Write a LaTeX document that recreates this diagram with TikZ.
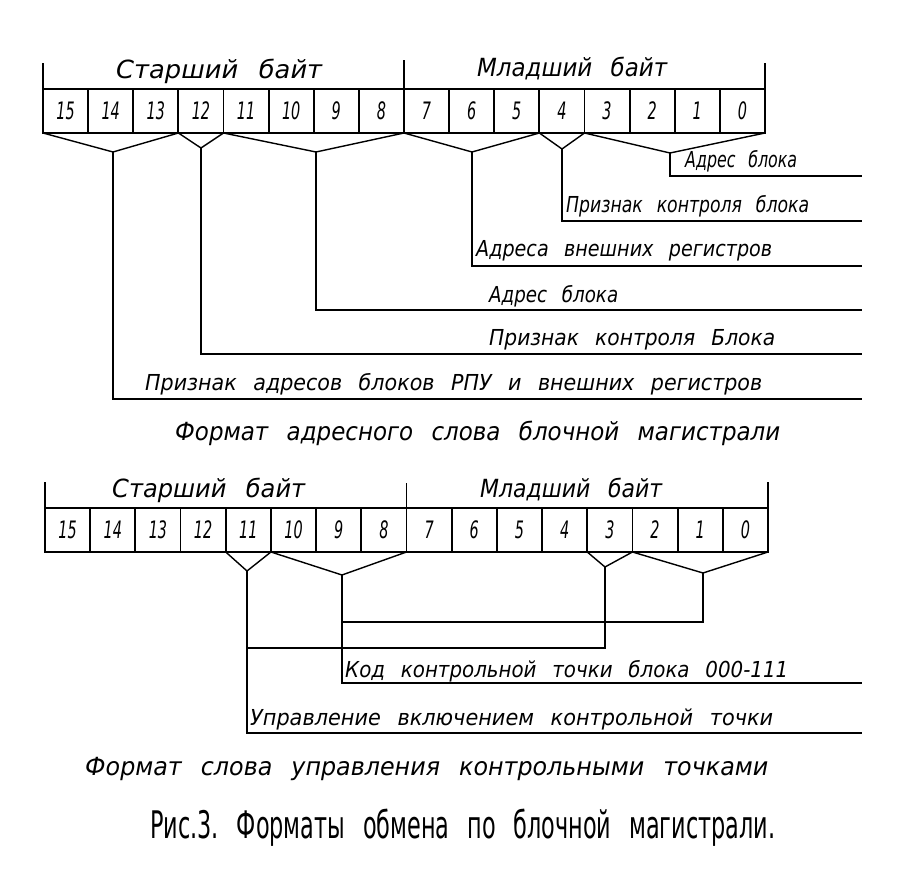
\documentclass[tikz,border=0pt]{standalone}
\usepackage{fontspec}
\setmainfont{DejaVu Sans}
\usepackage{graphicx}
\newcommand{\fw}[2]{\resizebox{#1pt}{\height}{#2}}
\newcommand{\wg}{\hspace{0.8em}}
\begin{document}
\begin{tikzpicture}[x=1pt,y=-1pt,
  cell/.style={draw, line width=1.8pt, minimum height=44pt, inner sep=0pt, outer sep=0pt,
    font=\fontsize{24}{24}\selectfont\itshape},
  lbl/.style={anchor=base west, inner sep=0pt, font=\fontsize{22}{22}\selectfont\itshape},
  ttl/.style={anchor=base west, inner sep=0pt, font=\fontsize{25}{25}\selectfont\itshape},
  figcap/.style={anchor=base west, inner sep=0pt, font=\fontsize{38}{38}\selectfont},
  conn/.style={line width=1.4pt},
  brk/.style={line width=1.8pt}]
\useasboundingbox[fill=white] (0,0) rectangle (906,869);

% ---------- top register ----------
\foreach \b in {15,...,0} {
  \pgfmathsetmacro\cx{43+(15-\b+0.5)*45.125}
  \node[cell, minimum width=45.125pt] (t\b) at (\cx,111) {\scalebox{0.6}[1]{\b}};
}
\coordinate (tl) at (43,63);
\coordinate (tm) at (407,60);
\coordinate (tr) at (765,63);
\draw[brk] (t15.north west) -- (t15.north west |- tl);
\draw[brk] (t8.north east) -- (t8.north east |- tm);
\draw[brk] (t0.north east) -- (t0.north east |- tr);

\node[ttl] (ts) at (116,79) {\fw{206}{Старший\wg байт}};
\node[ttl] (tj) at (477,77) {\fw{190}{Младший\wg байт}};

\coordinate (v1) at (113,152);
\coordinate (v2) at (201,148);
\coordinate (v3) at (316,152);
\coordinate (v4) at (472,152);
\coordinate (v5) at (562,149);
\coordinate (v6) at (670,153);
\coordinate (e1) at (862,399);
\coordinate (e2) at (862,354);
\coordinate (e3) at (862,310);
\coordinate (e4) at (862,266);
\coordinate (e5) at (862,221);
\coordinate (e6) at (862,176);

\draw[conn] (t15.south west) -- (v1) -- (t13.south east);
\draw[conn] (t12.south west) -- (v2) -- (t12.south east);
\draw[conn] (t11.south west) -- (v3) -- (t8.south east);
\draw[conn] (t7.south west) -- (v4) -- (t5.south east);
\draw[conn] (t4.south west) -- (v5) -- (t4.south east);
\draw[conn] (t3.south west) -- (v6) -- (t0.south east);
\draw[conn] (v1) |- (e1);
\draw[conn] (v2) |- (e2);
\draw[conn] (v3) |- (e3);
\draw[conn] (v4) |- (e4);
\draw[conn] (v5) |- (e5);
\draw[conn] (v6) |- (e6);

\node[lbl] (a6) at (685,168) {\fw{112}{Адрес\wg блока}};
\node[lbl] (a5) at (566,213) {\fw{243}{Признак\wg контроля\wg блока}};
\node[lbl] (a4) at (476,257) {\fw{296}{Адреса\wg внешних\wg регистров}};
\node[lbl] (a3) at (489,303) {\fw{129}{Адрес\wg блока}};
\node[lbl] (a2) at (489,345) {\fw{286}{Признак\wg контроля\wg Блока}};
\node[lbl] (a1) at (145,390) {\fw{617}{Признак\wg адресов\wg блоков\wg РПУ\wg и\wg внешних\wg регистров}};
\node[ttl] (f1) at (175,440) {\fw{605}{Формат\wg адресного\wg слова\wg блочной\wg магистрали}};

% ---------- bottom register ----------
\foreach \b in {15,...,0} {
  \pgfmathsetmacro\cx{45+(15-\b+0.5)*45.1875}
  \node[cell, minimum width=45.1875pt] (b\b) at (\cx,530) {\scalebox{0.6}[1]{\b}};
}
\coordinate (bl) at (45,482);
\coordinate (bm) at (407,483);
\coordinate (br) at (768,482);
\draw[brk] (b15.north west) -- (b15.north west |- bl);
\draw[brk] (b8.north east) -- (b8.north east |- bm);
\draw[brk] (b0.north east) -- (b0.north east |- br);

\node[ttl] (bs) at (112,497) {\fw{193}{Старший\wg байт}};
\node[ttl] (bj) at (480,497) {\fw{182}{Младший\wg байт}};

\coordinate (w1) at (247,571);
\coordinate (w2) at (342,575);
\coordinate (w3) at (703,573);
\coordinate (w4) at (605,567);
\coordinate (j1) at (247,648);
\coordinate (j2) at (342,622);
\coordinate (g1) at (862,733);
\coordinate (g2) at (862,683);

\draw[conn] (b11.south west) -- (w1) -- (b11.south east);
\draw[conn] (b10.south west) -- (w2) -- (b8.south east);
\draw[conn] (b3.south west) -- (w4) -- (b3.south east);
\draw[conn] (b2.south west) -- (w3) -- (b0.south east);
\draw[conn] (w1) |- (g1);
\draw[conn] (w2) |- (g2);
\draw[conn] (w4) |- (j1);
\draw[conn] (w3) |- (j2);

\node[lbl] (k1) at (345,677) {\fw{443}{Код\wg контрольной\wg точки\wg блока\wg 000-111}};
\node[lbl] (k2) at (250,725) {\fw{523}{Управление\wg включением\wg контрольной\wg точки}};
\node[ttl] (f2) at (85,775) {\fw{683}{Формат\wg слова\wg управления\wg контрольными\wg точками}};
\node[figcap] (f3) at (150,838) {\fw{625}{Рис.3.\wg Форматы\wg обмена\wg по\wg блочной\wg магистрали.}};
\end{tikzpicture}
\end{document}
